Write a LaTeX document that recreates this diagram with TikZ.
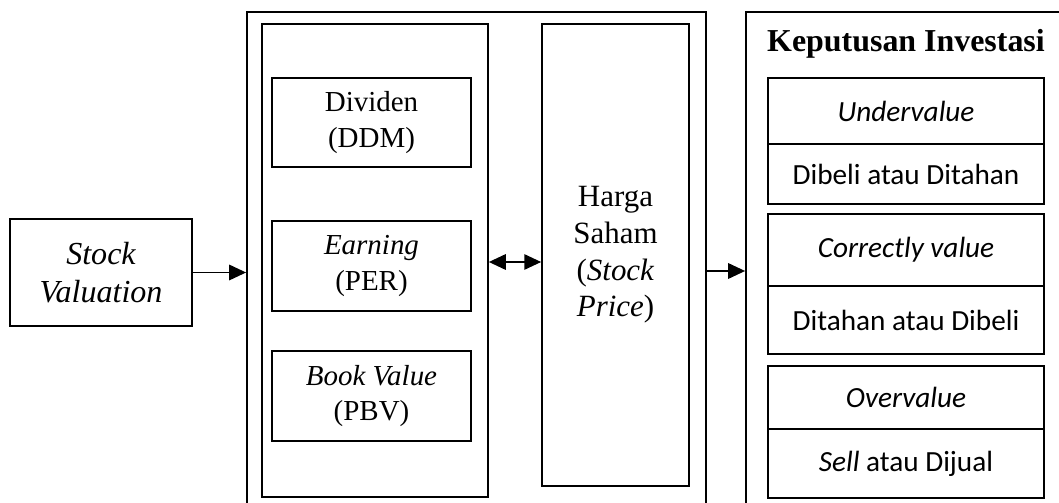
\documentclass[tikz,border=0pt]{standalone}
\usepackage{fontspec}
\setmainfont{Liberation Serif}
\newfontfamily\cellfont{Carlito}
\usetikzlibrary{arrows.meta}
\tikzset{
  framebox/.style={rectangle, draw=black, line width=1.2pt, inner sep=0pt, align=center},
  methodbox/.style={framebox, minimum width=4.975cm, minimum height=2.25cm, font=\fontsize{20.6}{25}\selectfont},
  cellbox/.style={framebox, minimum width=6.9cm, font=\cellfont\fontsize{20.8}{25}\selectfont},
  flowarrow/.style={-{Triangle[length=12pt,width=11pt]}, line width=1.1pt},
  duoarrow/.style={{Triangle[length=12pt,width=11pt]}-{Triangle[length=12pt,width=11pt]}, line width=1.1pt}
}

\begin{document}
\begin{tikzpicture}[x=0.025cm, y=-0.025cm]
\useasboundingbox (0,0) rectangle (1059,503);
\clip (0,0) rectangle (1059,503);
% input
\node[framebox, minimum width=4.55cm, minimum height=2.675cm, font=\fontsize{22.8}{27.5}\selectfont\itshape] (valuation) at (101,272.5) {Stock\\Valuation};
% valuation methods and price
\node[framebox, minimum width=11.475cm, minimum height=12.7cm] (model) at (476.5,266) {};
\node[framebox, minimum width=5.65cm, minimum height=11.825cm] (methods) at (375,260.5) {};
\node[methodbox, minimum height=2.225cm] (ddm) at (371.5,122.5) {Dividen\\(DDM)};
\node[methodbox] (per) at (371.5,266) {\textit{Earning}\\(PER)};
\node[methodbox] (pbv) at (371.5,396) {\textit{Book Value}\\(PBV)};
\node[framebox, minimum width=3.675cm, minimum height=11.55cm, font=\fontsize{22}{26}\selectfont] (price) at (615.5,255) {Harga\\Saham\\(\textit{Stock}\\\textit{Price})};
% decision
\node[framebox, minimum width=8.225cm, minimum height=12.7cm] (decision) at (910.5,266) {};
\node[anchor=base, font=\fontsize{22.7}{26}\selectfont\bfseries] (dectitle) at (906,52) {Keputusan Investasi};
\node[cellbox, minimum height=1.65cm] (under) at (906,111) {\textit{Undervalue}};
\node[cellbox, minimum height=1.5cm] (buy) at (906,174) {Dibeli atau Ditahan};
\node[cellbox, minimum height=1.8cm] (correct) at (906,250) {\textit{Correctly value}};
\node[cellbox, minimum height=1.7cm] (hold) at (906,320) {Ditahan atau Dibeli};
\node[cellbox, minimum height=1.575cm] (over) at (906,397.5) {\textit{Overvalue}};
\node[cellbox, minimum height=1.725cm] (sell) at (906,463.5) {\textit{Sell} atau Dijual};
% arrows
\draw[flowarrow] (valuation.east) -- (valuation.east -| model.west);
\draw[duoarrow] (methods.east |- 0,262) -- (price.west |- 0,262);
\draw[flowarrow] (model.east |- 0,271) -- (decision.west |- 0,271);
\end{tikzpicture}
\end{document}
